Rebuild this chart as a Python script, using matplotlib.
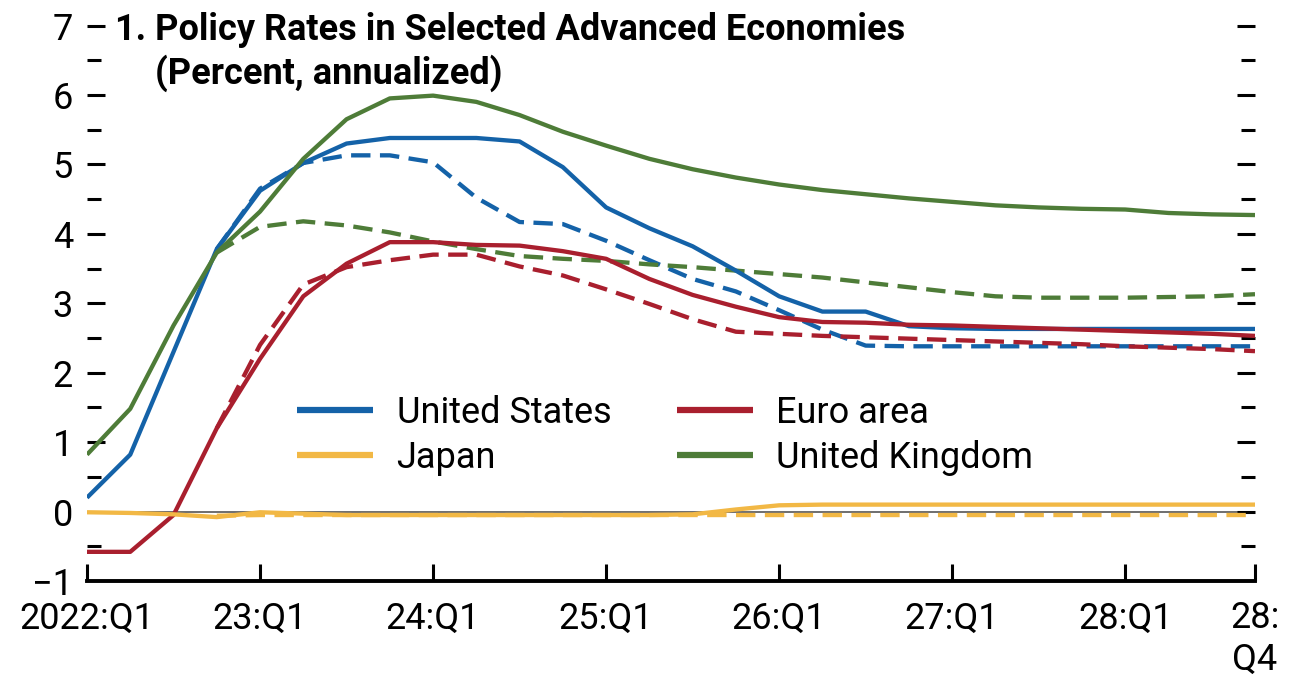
import numpy as np
import matplotlib
matplotlib.use("Agg")
import matplotlib.pyplot as plt
from matplotlib.ticker import FixedLocator, MultipleLocator

plt.rcParams['font.family'] = ['Liberation Sans Narrow', 'DejaVu Sans Condensed', 'Roboto',
                               'DejaVu Sans']

# quarters 2022:Q1 .. 2028:Q4
quarters = np.arange(28)
xtick_pos = [0, 4, 8, 12, 16, 20, 24, 27]
xtick_labels = ["2022:Q1", "23:Q1", "24:Q1", "25:Q1", "26:Q1", "27:Q1", "28:Q1", "28:\nQ4"]

nan = np.nan
us = [0.20, 0.82, 2.30, 3.78, 4.62, 5.02, 5.30, 5.38, 5.38, 5.38, 5.33, 4.96, 4.38, 4.08,
      3.82, 3.47, 3.10, 2.88, 2.88, 2.67, 2.64, 2.63, 2.63, 2.63, 2.63, 2.63, 2.63, 2.63]
us_prev = [nan, nan, nan, 3.78, 4.65, 5.02, 5.13, 5.13, 5.03, 4.52, 4.17, 4.14, 3.90, 3.62,
           3.35, 3.17, 2.90, 2.62, 2.39, 2.38, 2.38, 2.38, 2.38, 2.38, 2.38, 2.38, 2.38, 2.38]

euro = [-0.58, -0.58, -0.05, 1.20, 2.20, 3.10, 3.57, 3.88, 3.88, 3.84, 3.83, 3.75, 3.64, 3.35,
        3.12, 2.95, 2.80, 2.73, 2.72, 2.69, 2.68, 2.66, 2.64, 2.62, 2.60, 2.58, 2.56, 2.53]
euro_prev = [nan, nan, nan, 1.20, 2.40, 3.27, 3.52, 3.62, 3.70, 3.70, 3.53, 3.40, 3.20, 2.99,
             2.77, 2.59, 2.56, 2.53, 2.51, 2.49, 2.47, 2.45, 2.43, 2.41, 2.38, 2.36, 2.34, 2.31]

japan = [-0.01, -0.02, -0.04, -0.08, -0.01, -0.03, -0.05, -0.05, -0.05, -0.05, -0.05, -0.05,
         -0.05, -0.05, -0.04, 0.03, 0.09, 0.10, 0.10, 0.10, 0.10, 0.10, 0.10, 0.10, 0.10, 0.10,
         0.10, 0.10]
japan_prev = [nan, nan, nan, -0.06, -0.05, -0.05, -0.05, -0.05, -0.05, -0.05, -0.05, -0.05,
              -0.05, -0.05, -0.05, -0.05, -0.05, -0.05, -0.05, -0.05, -0.05, -0.05, -0.05,
              -0.05, -0.05, -0.05, -0.05, -0.05]

uk = [0.82, 1.48, 2.68, 3.73, 4.32, 5.08, 5.65, 5.95, 5.99, 5.90, 5.71, 5.47, 5.27, 5.08,
      4.93, 4.81, 4.71, 4.63, 4.57, 4.51, 4.46, 4.41, 4.38, 4.36, 4.35, 4.30, 4.28, 4.27]
uk_prev = [nan, nan, nan, 3.73, 4.10, 4.18, 4.12, 4.02, 3.89, 3.78, 3.68, 3.64, 3.61, 3.56,
           3.52, 3.47, 3.42, 3.37, 3.30, 3.23, 3.16, 3.10, 3.08, 3.08, 3.08, 3.09, 3.10, 3.13]

series = [
    ("United States", us, us_prev, "#1462a8"),
    ("Euro area", euro, euro_prev, "#a91f2e"),
    ("Japan", japan, japan_prev, "#f2b845"),
    ("United Kingdom", uk, uk_prev, "#4e7c38"),
]

fig = plt.figure(figsize=(12.92, 6.8), dpi=100)
ax = fig.add_axes([87 / 1292, 1 - 581 / 680, (1255 - 87) / 1292, (581 - 25.5) / 680])

ax.axhline(0, color="#555555", lw=1.2, zorder=1)

handles = {}
for name, cur, prev, col in series:
    ax.plot(quarters, prev, color=col, lw=3.1, ls=(0, (4.5, 2.2)), zorder=2)
    h, = ax.plot(quarters, cur, color=col, lw=3.1, zorder=3, solid_capstyle="butt")
    handles[name] = h

ax.set_xlim(0, 27)
ax.set_ylim(-1, 7)

ax.xaxis.set_major_locator(FixedLocator(xtick_pos))
ax.set_xticklabels(xtick_labels)
ax.yaxis.set_major_locator(MultipleLocator(1))
ax.yaxis.set_minor_locator(MultipleLocator(0.5))
ax.set_yticks(range(-1, 8))
ax.set_yticklabels(["\u22121" if v == -1 else str(v) for v in range(-1, 8)])

for s in ["left", "right", "top"]:
    ax.spines[s].set_visible(False)
ax.spines["bottom"].set_linewidth(2.8)

ax.tick_params(axis="x", direction="in", length=12, width=2.2, labelsize=26, pad=14)
ax.tick_params(axis="y", which="major", direction="in", length=13, width=2.2,
               labelsize=26, right=True, pad=10)
ax.tick_params(axis="y", which="minor", direction="in", length=10, width=2.2, right=True)
for t in ax.yaxis.get_major_ticks():
    if t.get_loc() == -1:
        t.tick1line.set_visible(False)
        t.tick2line.set_visible(False)
    if t.get_loc() == 0:
        t.tick1line.set_visible(False)

order = ["United States", "Japan", "Euro area", "United Kingdom"]
leg = ax.legend([handles[n] for n in order], order, ncol=2, frameon=False, fontsize=26,
                loc="upper left", bbox_to_anchor=(0.18, 0.335), handlelength=2.1,
                handletextpad=0.65, columnspacing=1.82, labelspacing=0.25,
                borderpad=0, borderaxespad=0)
for line in leg.get_lines():
    line.set_linewidth(4.5)

fig.text(115 / 1292, 1 - 40 / 680, "1. Policy Rates in Selected Advanced Economies",
         fontsize=26, fontweight="bold", va="baseline")
fig.text(155 / 1292, 1 - 84 / 680, "(Percent, annualized)",
         fontsize=26, fontweight="bold", va="baseline")

fig.savefig("out.png", dpi=100)
